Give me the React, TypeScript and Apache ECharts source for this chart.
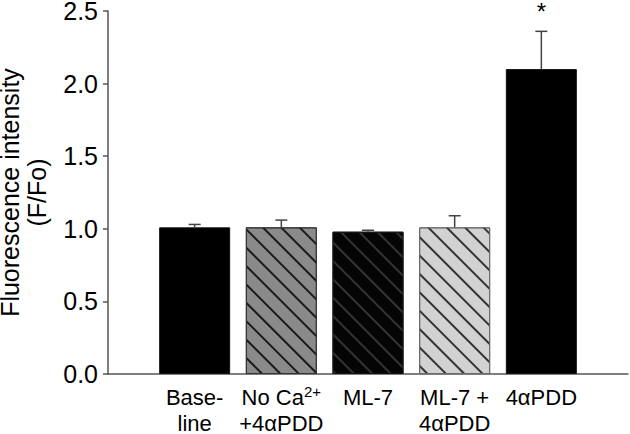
import React, { useEffect, useRef } from "react";
import * as echarts from "echarts";

const categories = ["Base-\nline", "No Ca2+\n+4αPDD", "ML-7", "ML-7 +\n4αPDD", "4αPDD"];
const means = [1.01, 1.01, 0.98, 1.01, 2.1];
const errors = [0.02, 0.05, 0.01, 0.08, 0.26];
const significance = ["", "", "", "", "*"];
const yTicks = [0, 0.5, 1.0, 1.5, 2.0, 2.5];

const FONT = "Liberation Sans, Arial, Helvetica, sans-serif";

const barStyles = [
  { color: "#000000", borderColor: "#111111", decal: null },
  { color: "#8a8a8a", borderColor: "#333333", decal: "#1a1a1a" },
  { color: "#050505", borderColor: "#111111", decal: "#333333" },
  { color: "#d2d2d2", borderColor: "#6a6a6a", decal: "#333333" },
  { color: "#000000", borderColor: "#111111", decal: null },
];

export default function App() {
  const ref = useRef<HTMLDivElement>(null);
  useEffect(() => {
    if (!ref.current) return;
    const chart = echarts.init(ref.current, undefined, { renderer: "svg" });
    const cats = ["", ...categories, ""];
    const barData: any[] = ["-"];
    means.forEach((v, i) => {
      const s = barStyles[i];
      const itemStyle: any = { color: s.color, borderColor: s.borderColor, borderWidth: 1 };
      if (s.decal) {
        itemStyle.decal = {
          symbol: "rect",
          symbolSize: 1,
          dashArrayX: [1, 0],
          dashArrayY: [1.6, 10.2],
          rotation: Math.PI / 4,
          color: s.decal,
        };
      }
      barData.push({ value: v, itemStyle });
    });
    barData.push("-");
    const errData = means.map((v, i) => [i + 1, v, v + errors[i], significance[i]]);

    chart.setOption({
      animation: false,
      grid: { left: 108, right: 2, top: 11, bottom: 60, containLabel: false, outerBoundsMode: "none" },
      xAxis: {
        type: "category",
        data: cats,
        boundaryGap: false,
        axisLine: { lineStyle: { color: "#555555", width: 1.5 } },
        axisTick: { show: false },
        axisLabel: {
          interval: 0,
          margin: 10,
          color: "#000",
          fontFamily: FONT,
          fontSize: 22,
          lineHeight: 26,
          formatter: (val: string) => {
            if (val.indexOf("Ca2+") >= 0) {
              const lines = val.split("\n");
              return "{n|No Ca}{sup|2+}\n{n|" + lines[1] + "}";
            }
            return val;
          },
          rich: {
            n: { fontSize: 22, fontFamily: FONT, color: "#000", lineHeight: 26 },
            sup: { fontSize: 15, fontFamily: FONT, color: "#000", verticalAlign: "top", lineHeight: 26, padding: [0, 0, 8, 0] },
          },
        },
      },
      yAxis: {
        type: "value",
        min: 0,
        max: 2.5,
        interval: 0.5,
        name: "Fluorescence intensity\n(F/Fo)",
        nameLocation: "middle",
        nameRotate: 90,
        nameGap: 58,
        nameTextStyle: { fontFamily: FONT, fontSize: 25, color: "#000", lineHeight: 27 },
        axisLine: { show: true, lineStyle: { color: "#555555", width: 1.5 } },
        axisTick: { show: true, length: 5, lineStyle: { color: "#555555", width: 1.5 } },
        splitLine: { show: false },
        axisLabel: {
          margin: 10,
          color: "#000",
          fontFamily: FONT,
          fontSize: 25,
          formatter: (v: number) => (yTicks.indexOf(v) >= 0 ? v.toFixed(1) : ""),
        },
      },
      series: [
        {
          type: "bar",
          data: barData,
          barWidth: 71,
        },
        {
          type: "custom",
          data: errData,
          z: 3,
          renderItem: (params: any, api: any) => {
            const x = api.value(0);
            const lo = api.coord([x, api.value(1)]);
            const hi = api.coord([x, api.value(2)]);
            const sig = significance[params.dataIndex];
            const children: any[] = [
              { type: "line", shape: { x1: lo[0], y1: lo[1], x2: hi[0], y2: hi[1] }, style: { stroke: "#444", lineWidth: 1.5 } },
              { type: "line", shape: { x1: hi[0] - 6, y1: hi[1], x2: hi[0] + 6, y2: hi[1] }, style: { stroke: "#444", lineWidth: 1.5 } },
            ];
            if (sig) {
              children.push({
                type: "text",
                style: {
                  text: sig,
                  x: hi[0],
                  y: hi[1] - 8,
                  align: "center",
                  verticalAlign: "bottom",
                  fontSize: 24,
                  fontFamily: FONT,
                  fill: "#000",
                },
              });
            }
            return { type: "group", children };
          },
        },
      ],
    });
    return () => chart.dispose();
  }, []);
  return <div ref={ref} style={{ width: 630, height: 434, position: "absolute", left: 0, top: 0 }} />;
}
